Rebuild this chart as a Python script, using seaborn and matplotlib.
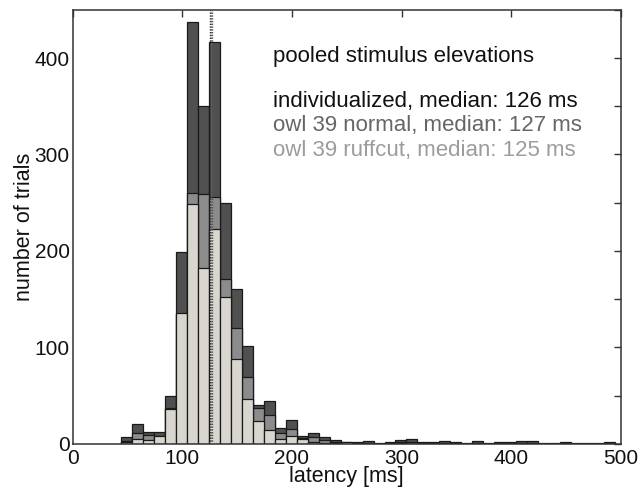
import numpy as np
import pandas as pd
import matplotlib
matplotlib.use("Agg")
import matplotlib.pyplot as plt
import seaborn as sns

# ---- data ----
bin_centers = [50, 60, 70, 80, 90, 100, 110, 120, 130, 140, 150, 160, 170, 180, 190,
               200, 210, 220, 230, 240, 250, 260, 270, 280, 290, 300, 310, 320, 330, 340,
               350, 360, 370, 380, 390, 400, 410, 420, 430, 440, 450, 460, 470, 480, 490]
individualized = [7, 20, 12.5, 12.5, 49.5, 199, 437, 350, 417, 250, 160, 101, 40, 44, 16,
                  25, 8, 11, 7, 4, 2, 2, 3, 1, 2, 4, 5, 2, 2, 3,
                  2, 1, 3, 1, 2, 2, 3, 3, 1, 1, 2, 1, 1, 1, 2]
owl39_normal = [3, 11, 9, 8, 37, 135, 260, 259, 256, 171, 120, 69, 37, 30, 11,
                15, 6, 7, 4, 2, 1, 1, 1, 0, 1, 2, 2, 1, 1, 1,
                1, 0, 1, 0, 1, 1, 1, 1, 0, 0, 1, 0, 0, 0, 1]
owl39_ruffcut = [2, 5, 4, 8, 36, 136, 249, 182, 223, 152, 88, 46, 24, 14, 5,
                 8, 5, 2, 1, 1, 2, 0, 0, 0, 0, 1, 0, 0, 0, 0,
                 0, 0, 0, 0, 0, 0, 0, 0, 0, 0, 0, 0, 0, 0, 0]
series_names = ["individualized", "owl 39 normal", "owl 39 ruffcut"]
medians = [126, 127, 125]
legend_texts = ["individualized, median: 126 ms",
                "owl 39 normal, median: 127 ms",
                "owl 39 ruffcut, median: 125 ms"]
title_text = "pooled stimulus elevations"

bar_colors = ["#505050", "#8c8c8c", "#d9d6cf"]
text_colors = ["#111111", "#666666", "#9c9c9c"]

df = pd.DataFrame({
    "latency": bin_centers * 3,
    "count": individualized + owl39_normal + owl39_ruffcut,
    "series": sum([[n] * len(bin_centers) for n in series_names], []),
})

sns.set_style("white")
plt.rcParams["font.family"] = ["Liberation Sans", "DejaVu Sans"]

fig = plt.figure(figsize=(6.42, 4.92), dpi=100)
ax = fig.add_axes([0.113, 0.098, 0.854, 0.882])

for name, col in zip(series_names, bar_colors):
    sub = df[df["series"] == name]
    sns.histplot(data=sub, x="latency", weights="count", binwidth=10,
                 binrange=(44.5, 494.5), ax=ax,
                 color=col, alpha=1.0, edgecolor="#1a1a1a", linewidth=0.9,
                 element="bars", stat="count")

for m, col in zip(medians, ["#777777", "#555555", "#333333"]):
    ax.axvline(m, color=col, linestyle=(0, (1, 1)), linewidth=1.0, zorder=5)

ax.set_xlim(0, 500)
ax.set_ylim(0, 450)
ax.set_xticks(np.arange(0, 501, 100))
ax.set_yticks(np.arange(0, 401, 100))
ax.set_yticks(np.arange(50, 451, 100), minor=True)
ax.tick_params(axis="both", which="both", direction="in", top=True, right=True,
               length=5, width=1, colors="#333333", labelsize=15, labelcolor="#111111")
ax.tick_params(axis="y", pad=2)
ax.tick_params(axis="x", pad=4)
for s in ax.spines.values():
    s.set_visible(True)
    s.set_color("#333333")
    s.set_linewidth(1.1)

ax.set_xlabel("latency [ms]", fontsize=15.5, labelpad=-2, color="#111111")
ax.set_ylabel("number of trials", fontsize=15.5, labelpad=0, color="#111111")

ax.text(183, 402, title_text, fontsize=16, ha="left", va="center", color="#111111")
ys = [355, 330, 304]
for t, y, c in zip(legend_texts, ys, text_colors):
    ax.text(183, y, t, fontsize=16, ha="left", va="center", color=c)

fig.savefig("out.png", dpi=100)
